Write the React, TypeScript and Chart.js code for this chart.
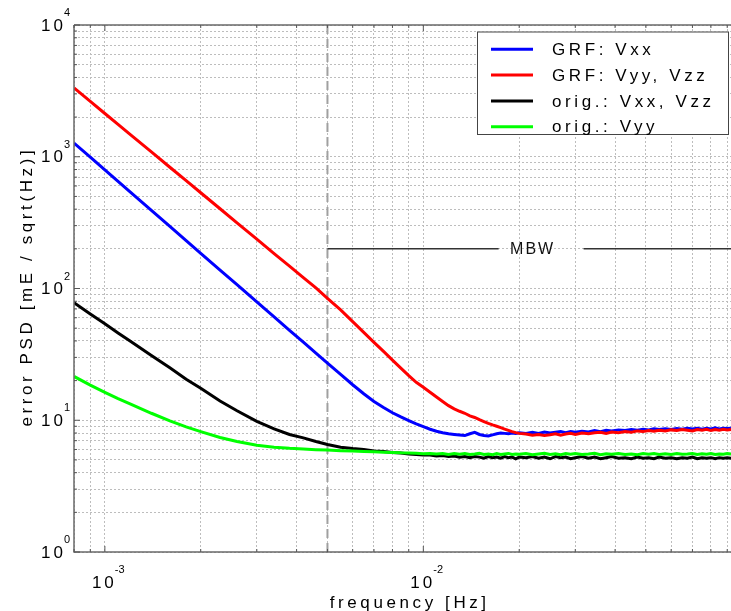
import React, { useEffect, useRef } from "react";
import { Chart, registerables } from "chart.js";

Chart.register(...registerables);

// ---------------- data ----------------
const freq = [
  0.0008, 0.0009, 0.001, 0.0011, 0.0012, 0.0014, 0.0016, 0.0018, 0.002, 0.0023, 0.0026, 0.003, 0.0034, 0.0038, 0.0042, 0.0046, 0.005,
  0.0055, 0.006, 0.0065, 0.007, 0.0075, 0.008, 0.0085, 0.009, 0.0095, 0.01, 0.0105, 0.011, 0.0115, 0.012, 0.0125, 0.013, 0.0135, 0.014, 0.0145, 0.015,
  0.0155, 0.016, 0.0165, 0.017, 0.0175, 0.018, 0.0185, 0.019, 0.0195, 0.02,
  0.021, 0.022, 0.023, 0.024, 0.025, 0.026, 0.027, 0.028, 0.029, 0.03,
  0.0315, 0.033, 0.0345, 0.036, 0.0375, 0.039,
  0.041, 0.043, 0.045, 0.047, 0.049, 0.051, 0.053, 0.055,
  0.0575, 0.06, 0.0625, 0.065, 0.0675, 0.07, 0.0725, 0.075, 0.0775, 0.08, 0.0825, 0.085, 0.0875, 0.09, 0.0925,
];

const grfVxx = [
  1270, 992, 795, 651, 542, 392, 296, 231, 185, 138, 107, 79, 60.9, 48.2, 39.1, 32.3, 27.1,
  22.3, 18.6, 15.9, 13.9, 12.5, 11.4, 10.6, 9.95, 9.4, 8.95, 8.55, 8.25, 8.05, 7.9, 7.8, 7.72, 7.65, 7.9, 8.1, 7.8,
  7.65, 7.6, 7.75, 7.9, 8.0, 7.95, 7.9, 8.0, 7.95, 8.05,
  7.95, 8.1, 7.95, 8.15, 8.0, 8.1, 8.2, 8.05, 8.2, 8.1,
  8.25, 8.15, 8.35, 8.2, 8.4, 8.3,
  8.45, 8.35, 8.5, 8.4, 8.55, 8.45, 8.6, 8.5,
  8.6, 8.5, 8.65, 8.55, 8.7, 8.6, 8.7, 8.55, 8.7, 8.6, 8.75, 8.6, 8.7, 8.65, 8.7,
];

const grfVyyVzz = [
  3330, 2630, 2130, 1760, 1480, 1090, 832, 658, 533, 403, 315, 237, 184, 148, 121, 101, 84,
  68.8, 56, 46.5, 39, 33.3, 28.6, 24.9, 21.8, 19.4, 17.8, 16.3, 15.0, 13.9, 12.9, 12.2, 11.7, 11.3, 10.8, 10.5, 10.1,
  9.77, 9.47, 9.22, 9.0, 8.78, 8.57, 8.38, 8.2, 8.05, 7.95,
  7.85, 7.7, 7.8, 7.65, 7.75, 7.9, 7.7, 7.85, 7.95, 7.8,
  8.0, 7.9, 8.05, 8.1, 7.95, 8.15,
  8.05, 8.2, 8.1, 8.3, 8.2, 8.35, 8.25, 8.4,
  8.3, 8.45, 8.35, 8.5, 8.4, 8.3, 8.5, 8.4, 8.55, 8.35, 8.5, 8.4, 8.55, 8.45, 8.5,
];

const origVxxVzz = [
  78, 64, 54, 46, 40, 31, 25, 20.5, 17.5, 14, 11.8, 9.8, 8.6, 7.8, 7.35, 6.9, 6.55,
  6.25, 6.1, 6.0, 5.85, 5.8, 5.7, 5.65, 5.55, 5.5, 5.45, 5.45, 5.35, 5.4, 5.3, 5.35, 5.25, 5.3, 5.2, 5.3, 5.25,
  5.15, 5.3, 5.2, 5.25, 5.15, 5.3, 5.2, 5.25, 5.1, 5.25,
  5.2, 5.3, 5.15, 5.25, 5.1, 5.3, 5.2, 5.25, 5.1, 5.2,
  5.3, 5.15, 5.25, 5.1, 5.2, 5.3,
  5.15, 5.2, 5.1, 5.25, 5.15, 5.2, 5.1, 5.25,
  5.15, 5.2, 5.1, 5.2, 5.15, 5.25, 5.1, 5.2, 5.15, 5.2, 5.1, 5.2, 5.15, 5.2, 5.15,
];

const origVyy = [
  21.5, 18.5, 16.3, 14.6, 13.3, 11.3, 9.9, 8.9, 8.2, 7.4, 6.9, 6.45, 6.25, 6.12, 6.05, 5.98, 5.94,
  5.88, 5.84, 5.8, 5.76, 5.72, 5.7, 5.66, 5.64, 5.62, 5.58, 5.6, 5.55, 5.6, 5.5, 5.58, 5.52, 5.6, 5.5, 5.55, 5.62,
  5.5, 5.55, 5.48, 5.58, 5.5, 5.55, 5.6, 5.5, 5.55, 5.52,
  5.6, 5.48, 5.55, 5.62, 5.5, 5.56, 5.48, 5.58, 5.52, 5.6,
  5.5, 5.55, 5.62, 5.48, 5.56, 5.52,
  5.6, 5.5, 5.55, 5.48, 5.58, 5.52, 5.6, 5.5,
  5.56, 5.5, 5.58, 5.52, 5.55, 5.6, 5.5, 5.56, 5.52, 5.58, 5.5, 5.55, 5.52, 5.58, 5.55,
];

const seriesValues = [grfVxx, grfVyyVzz, origVxxVzz, origVyy];
const seriesLabels = ["GRF: Vxx", "GRF: Vyy, Vzz", "orig.: Vxx, Vzz", "orig.: Vyy"];
const seriesColors = ["#0000ff", "#ff0000", "#000000", "#00ff00"];

const xMin = 0.0008;
const xMax = 0.0925;
const yMin = 1;
const yMax = 10000;
const mantissas = [1, 2, 3, 4, 5, 6, 7, 8, 9];
const xDecades = [-4, -3, -2];
const yDecades = [0, 1, 2, 3];
const xTickExponents = [-3, -2];
const yTickExponents = [0, 1, 2, 3, 4];

const mbwStart = 0.005;
const mbwEnd = 0.1;
const mbwLevel = 200;
const mbwLabel = "MBW";
const xTitle = "frequency [Hz]";
const yTitle = "error PSD [mE / sqrt(Hz)]";

// ---------------- helpers ----------------
const FONT = "'Liberation Sans', Arial, sans-serif";
const LS = 3.6;

function gridValues(decades: number[], lo: number, hi: number) {
  const out: number[] = [];
  decades.forEach((d) => mantissas.forEach((m) => {
    const v = parseFloat((m * Math.pow(10, d)).toPrecision(6));
    if (v >= lo - 1e-12 && v <= hi + 1e-12) out.push(v);
  }));
  const top = Math.pow(10, decades[decades.length - 1] + 1);
  if (top <= hi) out.push(top);
  return out;
}

const xGridValues = gridValues(xDecades, xMin, xMax);
const yGridValues = gridValues(yDecades, yMin, yMax);

function drawText(ctx: CanvasRenderingContext2D, s: string, x: number, y: number, size: number,
  align: CanvasTextAlign, baseline: CanvasTextBaseline, ls: number) {
  ctx.font = `${size}px ${FONT}`;
  ctx.textAlign = align;
  ctx.textBaseline = baseline;
  (ctx as any).letterSpacing = `${ls}px`;
  let dx = 0;
  if (align === "center") dx = ls / 2;
  if (align === "right") dx = ls;
  ctx.fillText(s, x + dx, y);
  (ctx as any).letterSpacing = "0px";
}

const decorPlugin = {
  id: "decor",
  beforeDatasetsDraw(chart: any) {
    const { ctx, chartArea, scales } = chart;
    const xd = scales.x.getPixelForValue(mbwStart);
    ctx.save();
    ctx.strokeStyle = "#a0a0a0";
    ctx.lineWidth = 2;
    ctx.setLineDash([9, 5]);
    ctx.beginPath();
    ctx.moveTo(xd, chartArea.top);
    ctx.lineTo(xd, chartArea.bottom);
    ctx.stroke();
    ctx.restore();
  },
  afterDatasetsDraw(chart: any) {
    const { ctx, chartArea, scales } = chart;
    const { left, right, top, bottom } = chartArea;
    const xs = scales.x;
    const ys = scales.y;
    ctx.save();

    // MBW annotation
    const yMbw = ys.getPixelForValue(mbwLevel);
    const xS = xs.getPixelForValue(mbwStart);
    const xMid = xs.getPixelForValue(Math.sqrt(mbwStart * mbwEnd));
    ctx.strokeStyle = "#333";
    ctx.lineWidth = 1.5;
    ctx.beginPath();
    ctx.moveTo(xS, yMbw);
    ctx.lineTo(xMid - 36, yMbw);
    ctx.moveTo(xMid + 49, yMbw);
    ctx.lineTo(right, yMbw);
    ctx.stroke();
    ctx.fillStyle = "#111";
    drawText(ctx, mbwLabel, xMid - 3, yMbw + 1, 16, "center", "middle", 2);

    // axes box lines
    ctx.strokeStyle = "#6a6a6a";
    ctx.lineWidth = 1.5;
    ctx.beginPath();
    ctx.moveTo(left, top);
    ctx.lineTo(right, top);
    ctx.moveTo(left, top);
    ctx.lineTo(left, bottom);
    ctx.lineTo(right, bottom);
    ctx.stroke();

    // tick marks
    ctx.lineWidth = 1;
    ctx.strokeStyle = "#555";
    ctx.beginPath();
    xGridValues.forEach((v) => {
      const px = xs.getPixelForValue(v);
      const major = xTickExponents.some((e) => Math.abs(Math.pow(10, e) - v) < 1e-12);
      const len = major ? 6 : 3;
      ctx.moveTo(px, bottom);
      ctx.lineTo(px, bottom - len);
      ctx.moveTo(px, top);
      ctx.lineTo(px, top + len);
    });
    yGridValues.forEach((v) => {
      const py = ys.getPixelForValue(v);
      const major = yTickExponents.some((e) => Math.abs(Math.pow(10, e) - v) < 1e-9);
      const len = major ? 6 : 3;
      ctx.moveTo(left, py);
      ctx.lineTo(left + len, py);
    });
    ctx.stroke();

    // tick labels
    ctx.fillStyle = "#000";
    yTickExponents.forEach((e) => {
      const py = ys.getPixelForValue(Math.pow(10, e));
      drawText(ctx, "10", left - 11, py + 1, 17, "right", "middle", 3);
      drawText(ctx, String(e), left - 10, py - 9, 11, "left", "alphabetic", 0);
    });
    xTickExponents.forEach((e) => {
      const px = xs.getPixelForValue(Math.pow(10, e));
      drawText(ctx, "10", px - 2, bottom + 36, 17, "center", "alphabetic", 3);
      drawText(ctx, String(e), px + 10, bottom + 21, 11, "left", "alphabetic", 0);
    });

    // axis titles
    drawText(ctx, xTitle, (left + xs.getPixelForValue(0.1)) / 2, bottom + 56, 17, "center", "alphabetic", LS);
    ctx.save();
    ctx.translate(27, (top + bottom) / 2);
    ctx.rotate(-Math.PI / 2);
    drawText(ctx, yTitle, 0, 0, 17, "center", "middle", LS);
    ctx.restore();

    // legend
    const bx = 477, by = 31.5, bw = 252, bh = 103.5;
    ctx.fillStyle = "#fff";
    ctx.fillRect(bx, by, bw, bh);
    ctx.strokeStyle = "#444";
    ctx.lineWidth = 1;
    ctx.strokeRect(bx + 0.5, by + 0.5, bw - 1, bh - 1);
    seriesLabels.forEach((lab, i) => {
      const ry = 49.3 + i * 25.8;
      ctx.strokeStyle = seriesColors[i];
      ctx.lineWidth = 3;
      ctx.beginPath();
      ctx.moveTo(491, ry);
      ctx.lineTo(533, ry);
      ctx.stroke();
      ctx.fillStyle = "#000";
      drawText(ctx, lab, 552, ry + 1, 17, "left", "middle", LS);
    });

    ctx.restore();
  },
};

export default function App() {
  const ref = useRef<HTMLCanvasElement | null>(null);

  useEffect(() => {
    if (!ref.current) return;
    const drawOrder = [3, 2, 1, 0];
    const chart = new Chart(ref.current, {
      type: "line",
      data: {
        datasets: seriesValues.map((vals, i) => ({
          label: seriesLabels[i],
          data: freq.map((f, j) => ({ x: f, y: vals[j] })),
          borderColor: seriesColors[i],
          backgroundColor: seriesColors[i],
          borderWidth: 3,
          pointRadius: 0,
          tension: 0,
          order: drawOrder[i],
        })),
      },
      options: {
        animation: false,
        responsive: false,
        devicePixelRatio: 1,
        events: [],
        layout: { padding: { left: 74, top: 25, right: 0, bottom: 59 } },
        plugins: {
          legend: { display: false },
          tooltip: { enabled: false },
          title: { display: false },
        },
        scales: {
          x: {
            type: "logarithmic",
            min: xMin,
            max: xMax,
            afterBuildTicks: (s: any) => {
              s.ticks = xGridValues.map((v) => ({ value: v }));
            },
            ticks: { display: false, autoSkip: false },
            grid: { color: "#bdbdbd", lineWidth: 1, drawTicks: false },
            border: { display: false, dash: [2, 2] },
          },
          y: {
            type: "logarithmic",
            min: yMin,
            max: yMax,
            afterBuildTicks: (s: any) => {
              s.ticks = yGridValues.map((v) => ({ value: v }));
            },
            ticks: { display: false, autoSkip: false },
            grid: { color: "#bdbdbd", lineWidth: 1, drawTicks: false },
            border: { display: false, dash: [2, 2] },
          },
        },
      } as any,
      plugins: [decorPlugin],
    });
    return () => chart.destroy();
  }, []);

  return (
    <div style={{ position: "fixed", left: 0, top: 0, width: 731, height: 611, background: "#fff" }}>
      <canvas ref={ref} width={731} height={611} style={{ display: "block" }} />
    </div>
  );
}
